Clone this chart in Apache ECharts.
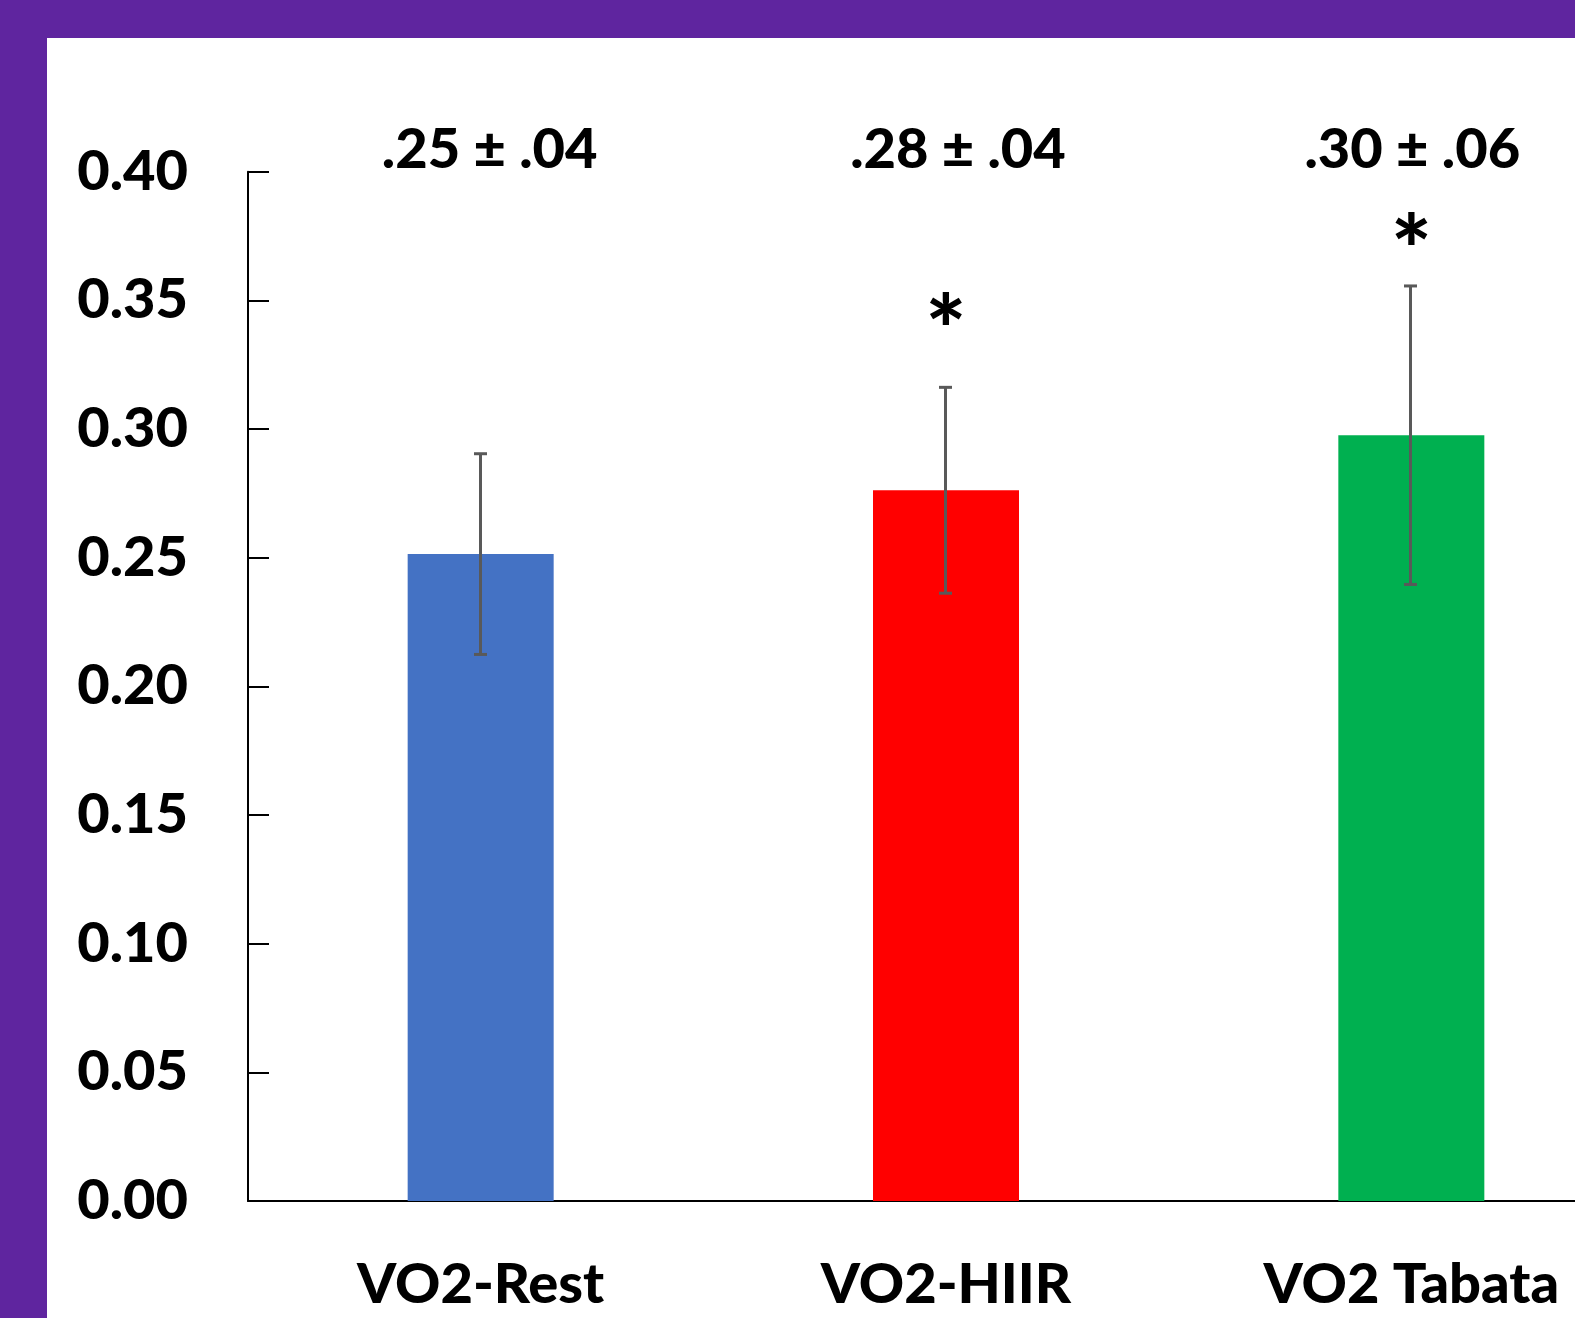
<!DOCTYPE html>
<html>
<head>
<meta charset="utf-8">
<script src="https://cdn.jsdelivr.net/npm/echarts@6/dist/echarts.min.js"></script>
<style>
  html, body { margin: 0; padding: 0; background: #ffffff; }
  #chart { width: 1575px; height: 1318px; }
</style>
</head>
<body>
<div id="chart"></div>
<script>
// Oxygen uptake per condition: mean and standard deviation
const categories = ['VO2-Rest', 'VO2-HIIR', 'VO2 Tabata'];
const means = [0.2514, 0.2762, 0.2976];
const sds = [0.039, 0.040, 0.058];
const barColors = ['#4472C4', '#FF0000', '#00B050'];
// Significance markers (asterisk height on the value axis; null = none)
const sigMarkY = [null, 0.347, 0.378];
const yTicks = [0, 0.05, 0.10, 0.15, 0.20, 0.25, 0.30, 0.35, 0.40];

const FONT = 'Lato';
const WEIGHT = 900;
const frame = '#5F259F';

// ".25" style formatting for the summary labels
const shortFmt = v => v.toFixed(2).replace(/^0/, '');
// small horizontal nudges for the summary text boxes
const summaryNudge = [9, 12, 1];

const chart = echarts.init(document.getElementById('chart'), null, { renderer: 'canvas' });

const option = {
  backgroundColor: '#ffffff',
  animation: false,
  grid: {
    left: 248, top: 171.7, width: 1396, height: 1029.3,
    containLabel: false, outerBoundsMode: 'none'
  },
  xAxis: {
    type: 'category',
    data: categories,
    axisLine: { show: true, lineStyle: { color: '#000000', width: 2 } },
    axisTick: { show: false },
    axisLabel: {
      color: '#000000', fontFamily: FONT, fontWeight: WEIGHT, fontSize: 56,
      margin: 56, interval: 0
    },
    splitLine: { show: false }
  },
  yAxis: {
    type: 'value',
    min: yTicks[0],
    max: yTicks[yTicks.length - 1],
    interval: 0.05,
    axisLine: { show: true, lineStyle: { color: '#000000', width: 2 } },
    axisTick: { show: true, inside: true, length: 21, lineStyle: { color: '#000000', width: 2 } },
    axisLabel: {
      color: '#000000', fontFamily: FONT, fontWeight: WEIGHT, fontSize: 56,
      margin: 60, formatter: v => v.toFixed(2)
    },
    splitLine: { show: false }
  },
  graphic: [
    { type: 'rect', shape: { x: 0, y: 0, width: 1575, height: 38 }, style: { fill: frame }, z: 100 },
    { type: 'rect', shape: { x: 0, y: 0, width: 47, height: 1318 }, style: { fill: frame }, z: 100 }
  ],
  series: [
    {
      type: 'bar',
      barWidth: 146,
      data: means.map((v, i) => ({ value: v, itemStyle: { color: barColors[i] } })),
      z: 2
    },
    {
      // error bars: mean ± sd
      type: 'custom',
      z: 5,
      data: means.map((m, i) => [i, m, sds[i]]),
      renderItem(params, api) {
        const i = api.value(0), m = api.value(1), s = api.value(2);
        const hi = api.coord([i, m + s]);
        const lo = api.coord([i, m - s]);
        const x = Math.round(hi[0]) - 0.5;
        const half = 6.5;
        const st = { stroke: '#595959', lineWidth: 3 };
        return {
          type: 'group',
          children: [
            { type: 'line', shape: { x1: x, y1: hi[1], x2: x, y2: lo[1] }, style: st },
            { type: 'line', shape: { x1: x - half, y1: hi[1], x2: x + half, y2: hi[1] }, style: st },
            { type: 'line', shape: { x1: x - half, y1: lo[1], x2: x + half, y2: lo[1] }, style: st }
          ]
        };
      }
    },
    {
      // summary text above the plot: mean ± sd
      type: 'custom',
      z: 6,
      data: means.map((m, i) => [i, m, sds[i]]),
      renderItem(params, api) {
        const i = api.value(0), m = api.value(1), s = api.value(2);
        const p = api.coord([i, yTicks[yTicks.length - 1]]);
        return {
          type: 'text',
          style: {
            text: shortFmt(m) + ' \u00B1 ' + shortFmt(s),
            x: p[0] + summaryNudge[i],
            y: p[1] + 6,
            align: 'center',
            verticalAlign: 'bottom',
            fontFamily: FONT, fontWeight: WEIGHT, fontSize: 56,
            fill: '#000000'
          }
        };
      }
    },
    {
      // significance asterisks
      type: 'custom',
      z: 6,
      data: sigMarkY.map((y, i) => [i, y]).filter(d => d[1] !== null),
      renderItem(params, api) {
        const p = api.coord([api.value(0), api.value(1)]);
        return {
          type: 'text',
          style: {
            text: '*',
            x: p[0],
            y: p[1] + 26,
            align: 'center',
            verticalAlign: 'middle',
            fontFamily: FONT, fontWeight: WEIGHT, fontSize: 96,
            fill: '#000000'
          }
        };
      }
    }
  ]
};

chart.setOption(option);
</script>
</body>
</html>
